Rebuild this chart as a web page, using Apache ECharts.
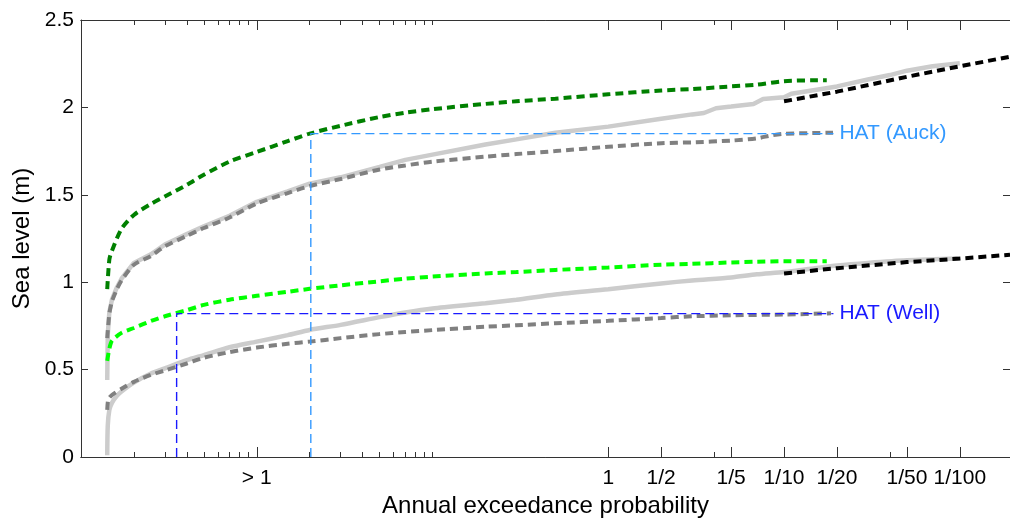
<!DOCTYPE html>
<html>
<head>
<meta charset="utf-8">
<script src="https://cdn.jsdelivr.net/npm/echarts@6/dist/echarts.min.js"></script>
<style>
html,body{margin:0;padding:0;background:#fff;}
#chart{width:1010px;height:523px;}
</style>
</head>
<body>
<div id="chart"></div>
<script>
// ---- Data (x = average recurrence interval in years, shown as AEP labels; y = sea level in m) ----
const xTickValues = [0.01, 1, 2, 5, 10, 20, 50, 100];
const xTickLabels = ['> 1', '1', '1/2', '1/5', '1/10', '1/20', '1/50', '1/100'];
const xMinorTicks = [0.002,0.003,0.004,0.005,0.006,0.007,0.008,0.009,0.02,0.03,0.04,0.05,0.06,0.07,0.08,0.09,0.1,4,40];

// Auckland
const ariGreenA = [0.00141,0.00145,0.0015,0.0017,0.002,0.0025,0.003,0.004,0.005,0.007,0.01,0.015,0.02,0.03,0.05,0.07,0.1,0.2,0.3,0.5,1,2,3,5,7,10,15,17.5];
const greenA    = [0.96,1.13,1.18,1.305,1.385,1.448,1.49,1.557,1.615,1.69,1.745,1.807,1.85,1.895,1.945,1.97,1.99,2.02,2.035,2.05,2.075,2.097,2.105,2.12,2.13,2.15,2.155,2.155];

const ariObsA = [0.00141,0.00142,0.00145,0.0015,0.0016,0.0017,0.002,0.0025,0.003,0.004,0.005,0.007,0.01,0.015,0.02,0.03,0.05,0.07,0.1,0.2,0.3,0.5,1,2,3,3.5,4.1,5,6.7,7.6,10,11,15,20,30,40,50,70,100];
const obsA    = [0.44,0.70,0.83,0.90,0.97,1.02,1.11,1.16,1.215,1.275,1.32,1.38,1.46,1.52,1.564,1.60,1.66,1.70,1.73,1.788,1.817,1.855,1.89,1.935,1.96,1.968,1.995,2.005,2.02,2.048,2.058,2.078,2.10,2.12,2.16,2.185,2.21,2.235,2.252];

const ariTideA = [0.00141,0.00145,0.0015,0.0016,0.0017,0.002,0.0025,0.003,0.004,0.005,0.007,0.01,0.015,0.02,0.03,0.05,0.07,0.1,0.2,0.3,0.5,1,2,3,5,7,8.5,10,19];
const tideA    = [0.68,0.82,0.89,0.96,1.01,1.10,1.15,1.205,1.265,1.31,1.37,1.45,1.51,1.55,1.59,1.645,1.668,1.69,1.718,1.733,1.75,1.775,1.795,1.80,1.81,1.823,1.84,1.849,1.855];

const ariExtreme = [10,20,50,100,193];
const extremeA   = [2.035,2.09,2.175,2.235,2.29];

// Wellington
const ariGreenW = [0.00141,0.00145,0.0015,0.0017,0.002,0.0025,0.003,0.004,0.005,0.007,0.01,0.015,0.02,0.03,0.05,0.07,0.1,0.2,0.3,0.5,1,2,3,5,7,10,15,17.5];
const greenW    = [0.55,0.62,0.665,0.71,0.738,0.778,0.805,0.84,0.87,0.90,0.922,0.945,0.962,0.982,1.005,1.02,1.032,1.05,1.058,1.07,1.084,1.10,1.105,1.113,1.117,1.12,1.12,1.12];

const ariObsW = [0.00141,0.00142,0.00145,0.0015,0.0016,0.0017,0.002,0.0025,0.003,0.004,0.005,0.007,0.01,0.015,0.02,0.03,0.05,0.07,0.1,0.2,0.3,0.5,1,2,3,5,7,10,15,20,30,50,100];
const obsW    = [0.01,0.18,0.27,0.31,0.35,0.375,0.426,0.478,0.507,0.554,0.583,0.628,0.66,0.697,0.727,0.756,0.80,0.827,0.85,0.88,0.90,0.93,0.96,0.993,1.01,1.027,1.045,1.058,1.08,1.095,1.11,1.125,1.135];

const ariTideW = [0.00141,0.00143,0.0015,0.0017,0.002,0.0025,0.003,0.004,0.005,0.007,0.01,0.015,0.02,0.03,0.05,0.07,0.1,0.2,0.3,0.5,1,2,3,5,10,18.5];
const tideW    = [0.27,0.33,0.355,0.39,0.43,0.47,0.495,0.535,0.568,0.60,0.626,0.648,0.66,0.68,0.703,0.715,0.726,0.745,0.754,0.765,0.779,0.795,0.805,0.811,0.815,0.822];

const extremeW = [1.05,1.08,1.115,1.135,1.157];

// HAT reference lines
const hatNames = ['HAT (Auck)', 'HAT (Well)'];
const hatLevels = [1.85, 0.82];
const hatARI = [0.0203, 0.0035];
const hatEndARI = 19.1;

// ---- Chart ----
const FONT = "'Liberation Sans', Arial, sans-serif";
const xMin = 0.001, xMax = 193;
const pairs = (xs, ys) => xs.map((x, i) => [x, ys[i]]);
const labelFor = v => {
  for (let i = 0; i < xTickValues.length; i++) {
    if (Math.abs(Math.log10(v) - Math.log10(xTickValues[i])) < 1e-6) return xTickLabels[i];
  }
  return '';
};
const axisLineStyle = {color: '#333', width: 1};
function xAx(position, major, showLabel) {
  return {
    type: 'log', logBase: 10, min: xMin, max: xMax, position: position,
    axisLine: {show: true, onZero: false, lineStyle: axisLineStyle},
    axisTick: {show: true, inside: true, length: major ? 10 : 5, lineStyle: {color: '#333'},
      customValues: major ? xTickValues : xMinorTicks},
    axisLabel: {show: showLabel, customValues: xTickValues, formatter: labelFor,
      color: '#000', fontSize: 21, fontFamily: FONT, margin: 11},
    splitLine: {show: false}, minorTick: {show: false}, minorSplitLine: {show: false},
    name: showLabel ? 'Annual exceedance probability' : '',
    nameLocation: 'middle', nameGap: 37,
    nameTextStyle: {color: '#000', fontSize: 24, fontFamily: FONT}
  };
}
function yAx(position, showLabel) {
  return {
    type: 'value', min: 0, max: 2.5, interval: 0.5, position: position,
    axisLine: {show: true, onZero: false, lineStyle: axisLineStyle},
    axisTick: {show: true, inside: true, length: 7, lineStyle: {color: '#333'}},
    axisLabel: {show: showLabel, color: '#000', fontSize: 21, fontFamily: FONT, margin: 7},
    splitLine: {show: false},
    name: showLabel ? 'Sea level (m)' : '',
    nameLocation: 'middle', nameGap: 46,
    nameTextStyle: {color: '#000', fontSize: 24, fontFamily: FONT}
  };
}
function lineSeries(name, data, color, width, dashed, z, smooth) {
  return {
    name: name, type: 'line', data: data, showSymbol: false, symbol: 'none',
    xAxisIndex: 0, yAxisIndex: 0, z: z, silent: true,
    smooth: smooth || false,
    lineStyle: {color: color, width: width, type: dashed ? [8, 5] : 'solid', cap: 'butt'}
  };
}
function hatSeries(i, color) {
  return {
    name: hatNames[i], type: 'line', showSymbol: false, symbol: 'none', z: 10, silent: true,
    data: [[hatARI[i], 0], [hatARI[i], hatLevels[i]], [hatEndARI, hatLevels[i]]],
    lineStyle: {color: color, width: 1.4, type: [9, 5]},
    endLabel: {show: true, formatter: hatNames[i], color: color, fontSize: 21, fontFamily: FONT, distance: 6}
  };
}

const chart = echarts.init(document.getElementById('chart'), null, {renderer: 'canvas'});
chart.setOption({
  animation: false,
  backgroundColor: '#fff',
  grid: {left: 81, right: -4, top: 20, bottom: 64, containLabel: false},
  xAxis: [xAx('bottom', true, true), xAx('bottom', false, false), xAx('top', true, false), xAx('top', false, false)],
  yAxis: [yAx('left', true), yAx('right', false)],
  series: [
    lineSeries('Observed (Auck)', pairs(ariObsA, obsA), '#cccccc', 4.5, false, 2, false),
    lineSeries('Observed (Well)', pairs(ariObsW, obsW), '#cccccc', 4.5, false, 2, 0.25),
    lineSeries('Tide (Auck)', pairs(ariTideA, tideA), '#808080', 4, true, 3, 0.25),
    lineSeries('Tide (Well)', pairs(ariTideW, tideW), '#808080', 4, true, 3, 0.25),
    lineSeries('Total (Auck)', pairs(ariGreenA, greenA), '#008000', 4, true, 4, 0.25),
    lineSeries('Total (Well)', pairs(ariGreenW, greenW), '#00ff00', 4, true, 4, 0.25),
    lineSeries('Extreme (Auck)', pairs(ariExtreme, extremeA), '#000000', 4, true, 5, false),
    lineSeries('Extreme (Well)', pairs(ariExtreme, extremeW), '#000000', 4, true, 5, false),
    hatSeries(0, '#3399ff'),
    hatSeries(1, '#1a1aff')
  ]
});
</script>
</body>
</html>
